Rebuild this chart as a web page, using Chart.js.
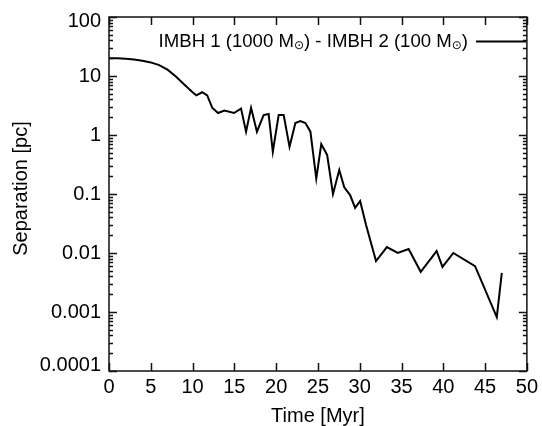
<!DOCTYPE html>
<html>
<head>
<meta charset="utf-8">
<script src="https://cdn.jsdelivr.net/npm/chart.js@4.4.0/dist/chart.umd.min.js"></script>
<style>
    html, body { margin: 0; padding: 0; background: #fff; }
</style>
</head>
<body>
<canvas id="grafico" width="542" height="426"></canvas>
<script>
// Dados (tempo em Myr, separacao em pc)
var tempos = [0, 1, 2, 3, 4, 5, 6, 7, 8, 9, 10,
    10.45, 11.15, 11.75, 12.35, 13.05, 13.8, 14.95, 15.8, 16.4, 17.0,
    17.7, 18.5, 19.1, 19.6, 20.3, 20.9, 21.6, 22.3, 22.9, 23.5,
    24.1, 24.8, 25.4, 26.1, 26.8, 27.55, 28.15, 28.85, 29.45, 30.05,
    30.75, 31.95, 33.25, 34.55, 35.85, 37.3, 39.2, 39.9, 41.2, 43.8,
    46.4, 47.0];
var separacao = [20, 19.9, 19.6, 19, 18.2, 17, 15.3, 12.8, 9.8, 7.2, 5.3,
    4.7, 5.3, 4.7, 2.9, 2.36, 2.6, 2.36, 2.8, 1.14, 2.9,
    1.14, 2.18, 2.27, 0.52, 2.18, 2.18, 0.63, 1.6, 1.73, 1.6,
    1.14, 0.183, 0.70, 0.46, 0.10, 0.255, 0.13, 0.096, 0.058, 0.076,
    0.030, 0.0073, 0.0126, 0.010, 0.0117, 0.0048, 0.0108, 0.0058, 0.010, 0.0060,
    0.00082, 0.0046];
var ticksX = [0, 5, 10, 15, 20, 25, 30, 35, 40, 45, 50];
var ticksY = [100, 10, 1, 0.1, 0.01, 0.001, 0.0001];
var rotulosY = ['100', '10', '1', '0.1', '0.01', '0.001', '0.0001'];

var fonte = "'Liberation Sans', Arial, sans-serif";
Chart.defaults.font.family = fonte;
Chart.defaults.color = '#000';

var pontos = [];
for (var i = 0; i < tempos.length; i++) {
    pontos.push({ x: tempos[i], y: separacao[i] });
}

// moldura, ticks internos, rotulos do eixo y e legenda
const moldura = {
    id: 'moldura',
    afterDraw(chart) {
        const ctx = chart.ctx;
        const a = chart.chartArea;
        const sx = chart.scales.x;
        const sy = chart.scales.y;
        ctx.save();
        ctx.strokeStyle = '#111';
        ctx.lineWidth = 1.5;

        // ticks x (embaixo e em cima)
        ctx.beginPath();
        ticksX.forEach(function (v) {
            var px = Math.round(sx.getPixelForValue(v)) + 0.5;
            ctx.moveTo(px, a.bottom); ctx.lineTo(px, a.bottom - 8);
            ctx.moveTo(px, a.top); ctx.lineTo(px, a.top + 8);
        });
        // ticks y maiores e menores (esquerda e direita)
        for (var d = -4; d <= 2; d++) {
            var py = Math.round(sy.getPixelForValue(Math.pow(10, d))) + 0.5;
            ctx.moveTo(a.left, py); ctx.lineTo(a.left + 8, py);
            ctx.moveTo(a.right, py); ctx.lineTo(a.right - 8, py);
            if (d < 2) {
                for (var m = 2; m <= 9; m++) {
                    var pm = Math.round(sy.getPixelForValue(m * Math.pow(10, d))) + 0.5;
                    ctx.moveTo(a.left, pm); ctx.lineTo(a.left + 4, pm);
                    ctx.moveTo(a.right, pm); ctx.lineTo(a.right - 4, pm);
                }
            }
        }
        ctx.stroke();
        ctx.strokeRect(a.left, a.top, a.right - a.left, a.bottom - a.top);

        // rotulos y
        ctx.fillStyle = '#000';
        ctx.font = '20px ' + fonte;
        ctx.textAlign = 'right';
        ctx.textBaseline = 'middle';
        ticksY.forEach(function (v, k) {
            var py = sy.getPixelForValue(v);
            py = Math.max(a.top + 4.5, Math.min(a.bottom - 6, py));
            ctx.fillText(rotulosY[k], a.left - 8, py);
        });

        // titulo do eixo y
        ctx.save();
        ctx.translate(27, 188.5);
        ctx.rotate(-Math.PI / 2);
        ctx.textAlign = 'center';
        ctx.textBaseline = 'alphabetic';
        ctx.fillText('Separation [pc]', 0, 0);
        ctx.restore();

        // legenda
        var fonteLeg = '18.6px ' + fonte;
        var fonteSol = "12px 'DejaVu Sans'";
        var partes = [
            ['IMBH 1 (1000 M', false], ['\u2299', true],
            [') - IMBH 2 (100 M', false], ['\u2299', true], [')', false]
        ];
        var total = 0;
        partes.forEach(function (p) {
            ctx.font = p[1] ? fonteSol : fonteLeg;
            total += ctx.measureText(p[0]).width;
        });
        var x = 468 - total;
        ctx.textAlign = 'left';
        ctx.textBaseline = 'alphabetic';
        partes.forEach(function (p) {
            ctx.font = p[1] ? fonteSol : fonteLeg;
            ctx.fillText(p[0], x, p[1] ? 48.5 : 46.5);
            x += ctx.measureText(p[0]).width;
        });
        ctx.lineWidth = 2;
        ctx.strokeStyle = '#000';
        ctx.beginPath();
        ctx.moveTo(476, 41.5); ctx.lineTo(526, 41.5);
        ctx.stroke();
        ctx.restore();
    }
};

const config = {
    type: 'line',
    data: {
        datasets: [{
            label: 'IMBH 1 (1000 M\u2299) - IMBH 2 (100 M\u2299)',
            data: pontos,
            borderColor: '#000',
            borderWidth: 2,
            pointRadius: 0,
            tension: 0,
            fill: false
        }]
    },
    options: {
        responsive: false,
        animation: false,
        devicePixelRatio: 1,
        layout: { padding: { left: 0, right: 12, top: 17, bottom: 0 } },
        plugins: {
            legend: { display: false },
            tooltip: { enabled: false }
        },
        scales: {
            x: {
                type: 'linear',
                min: 0,
                max: 50,
                afterBuildTicks: function (s) { s.ticks = ticksX.map(function (v) { return { value: v }; }); },
                afterFit: function (s) { s.height = 55; },
                grid: { display: false, drawTicks: false },
                border: { display: false },
                ticks: { font: { size: 20 }, color: '#000', padding: 4, maxRotation: 0 },
                title: {
                    display: true,
                    text: 'Time [Myr]',
                    font: { size: 20, lineHeight: 1 },
                    color: '#000',
                    padding: { top: 0, bottom: 0 }
                }
            },
            y: {
                type: 'logarithmic',
                min: 0.0001,
                max: 100,
                afterFit: function (s) { s.width = 109; },
                grid: { display: false, drawTicks: false },
                border: { display: false },
                ticks: { display: false }
            }
        }
    },
    plugins: [moldura]
};

new Chart(document.getElementById('grafico'), config);
</script>
</body>
</html>
